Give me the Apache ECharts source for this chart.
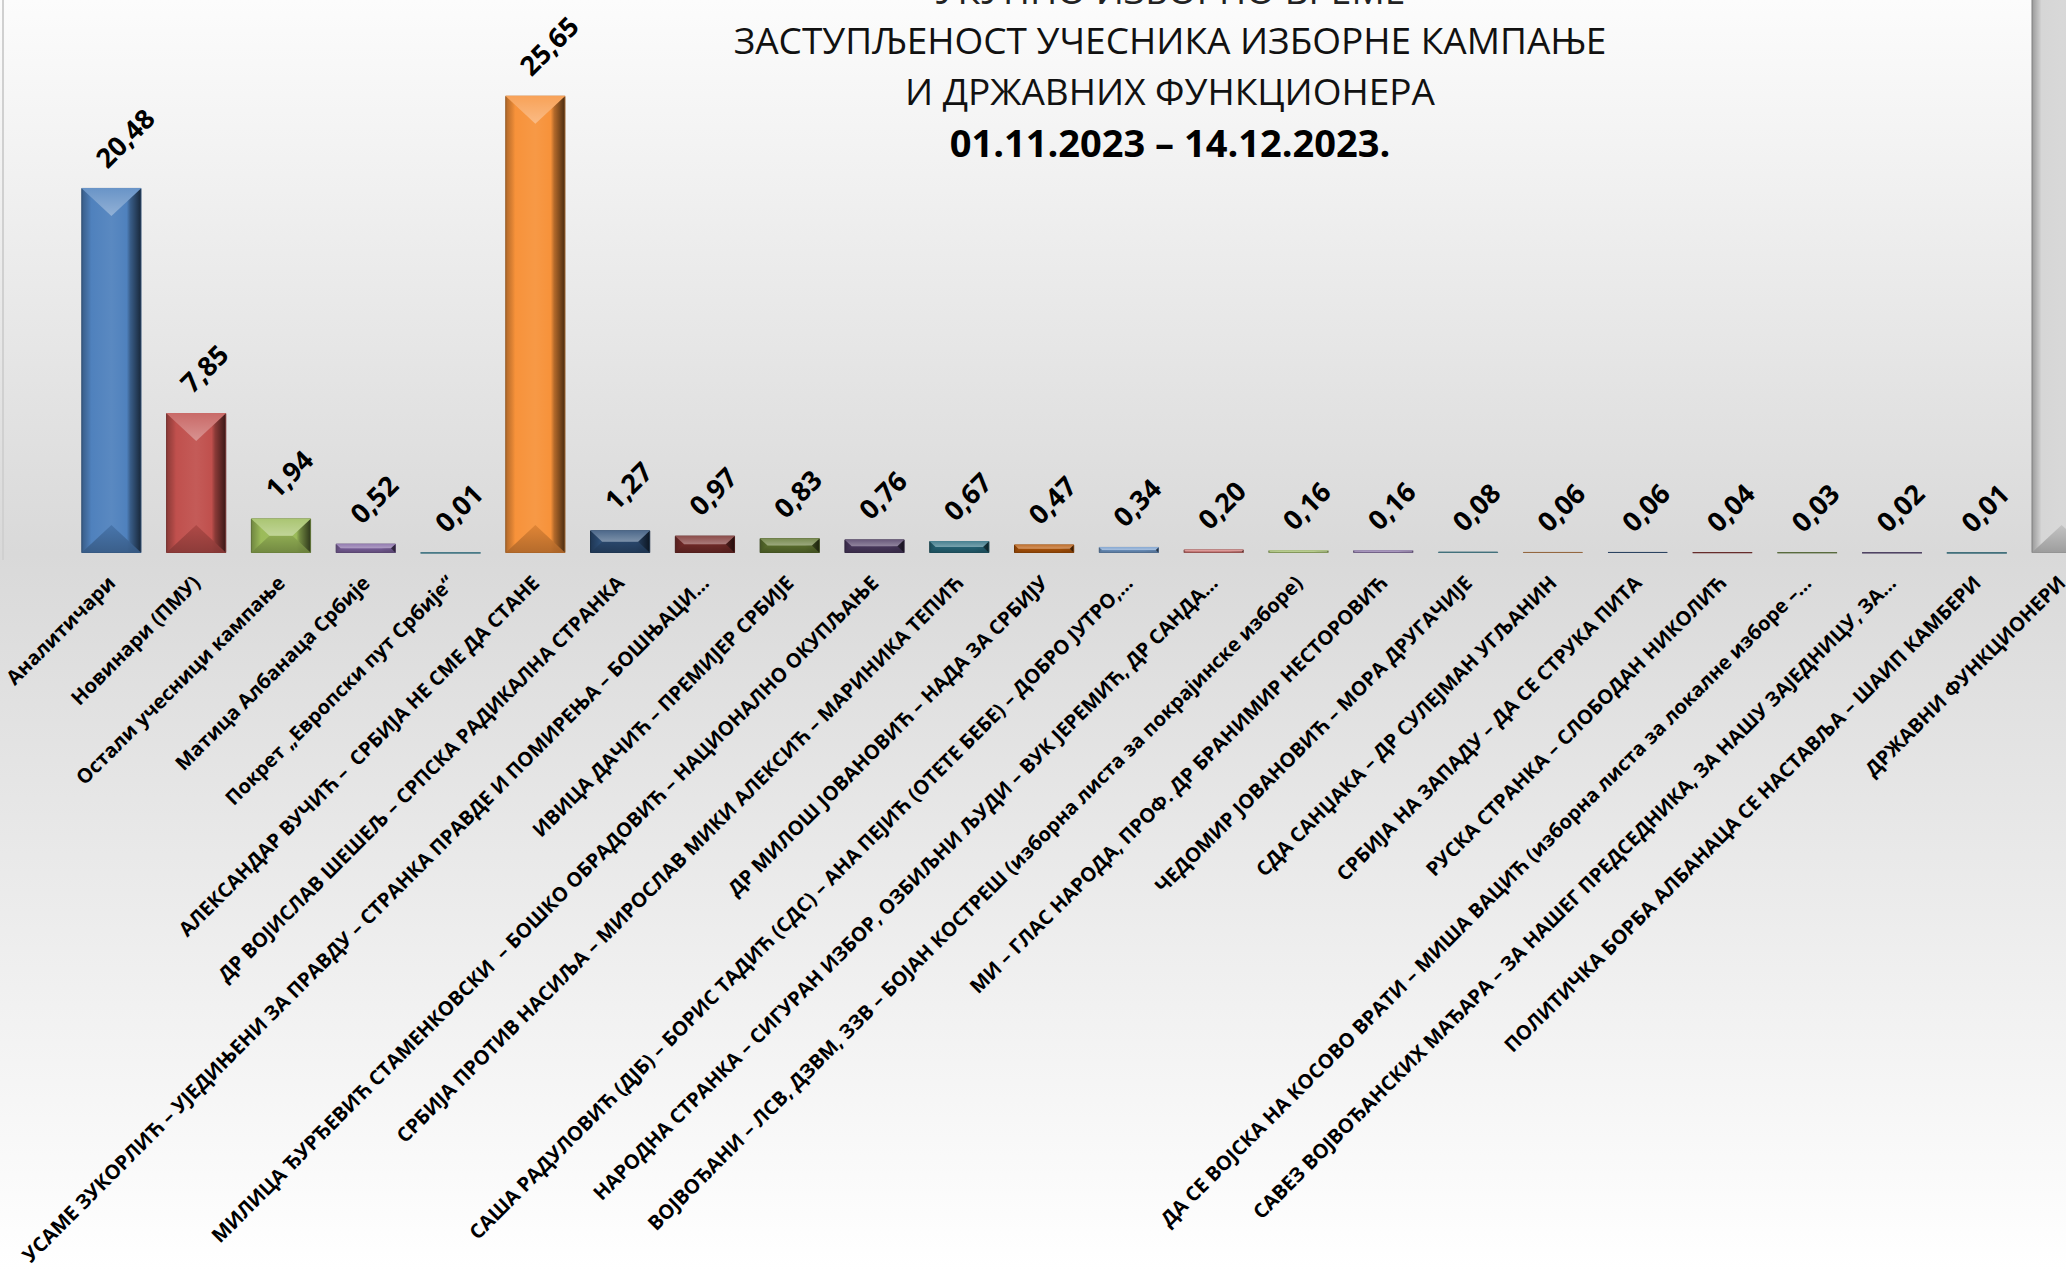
<!DOCTYPE html>
<html>
<head>
<meta charset="utf-8">
<script src="https://cdn.jsdelivr.net/npm/echarts@6/dist/echarts.min.js"></script>
<style>
html,body{margin:0;padding:0;width:2066px;height:1270px;overflow:hidden;}
body{position:relative;background:linear-gradient(to bottom,#FCFCFC 0px,#D9D9D9 553px,#FFFFFF 1270px);}
#chart{position:absolute;left:0;top:-160px;width:2104px;height:1430px;}
</style>
</head>
<body>
<div id="chart"></div>
<script>
const titleLines = [
  'УКУПНО ИЗБОРНО ВРЕМЕ',
  'ЗАСТУПЉЕНОСТ УЧЕСНИКА ИЗБОРНЕ КАМПАЊЕ',
  'И ДРЖАВНИХ ФУНКЦИОНЕРА',
  '01.11.2023 – 14.12.2023.'
];

const categories = [
  'Аналитичари',
  'Новинари (ПМУ)',
  'Остали учесници кампање',
  'Матица Албанаца Србије',
  'Покрет „Европски пут Србије“',
  'АЛЕКСАНДАР ВУЧИЋ –  СРБИЈА НЕ СМЕ ДА СТАНЕ',
  'ДР ВОЈИСЛАВ ШЕШЕЉ – СРПСКА РАДИКАЛНА СТРАНКА',
  'УСАМЕ ЗУКОРЛИЋ – УЈЕДИЊЕНИ ЗА ПРАВДУ – СТРАНКА ПРАВДЕ И ПОМИРЕЊА – БОШЊАЦИ…',
  'ИВИЦА ДАЧИЋ – ПРЕМИЈЕР СРБИЈЕ',
  'МИЛИЦА ЂУРЂЕВИЋ СТАМЕНКОВСКИ  – БОШКО ОБРАДОВИЋ – НАЦИОНАЛНО ОКУПЉАЊЕ',
  'СРБИЈА ПРОТИВ НАСИЉА – МИРОСЛАВ МИКИ АЛЕКСИЋ – МАРИНИКА ТЕПИЋ',
  'ДР МИЛОШ ЈОВАНОВИЋ – НАДА ЗА СРБИЈУ',
  'САША РАДУЛОВИЋ (ДЈБ) – БОРИС ТАДИЋ (СДС) – АНА ПЕЈИЋ (ОТЕТЕ БЕБЕ) – ДОБРО ЈУТРО,…',
  'НАРОДНА СТРАНКА – СИГУРАН ИЗБОР, ОЗБИЉНИ ЉУДИ – ВУК ЈЕРЕМИЋ, ДР САНДА…',
  'ВОЈВОЂАНИ – ЛСВ, ДЗВМ, ЗЗВ – БОЈАН КОСТРЕШ (изборна листа за покрајинске изборе)',
  'МИ – ГЛАС НАРОДА, ПРОФ. ДР БРАНИМИР НЕСТОРОВИЋ',
  'ЧЕДОМИР ЈОВАНОВИЋ – МОРА ДРУГАЧИЈЕ',
  'СДА САНЏАКА – ДР СУЛЕЈМАН УГЉАНИН',
  'СРБИЈА НА ЗАПАДУ – ДА СЕ СТРУКА ПИТА',
  'РУСКА СТРАНКА – СЛОБОДАН НИКОЛИЋ',
  'ДА СЕ ВОЈСКА НА КОСОВО ВРАТИ – МИША ВАЦИЋ (изборна листа за локалне изборе –…',
  'САВЕЗ ВОЈВОЂАНСКИХ МАЂАРА – ЗА НАШЕГ ПРЕДСЕДНИКА, ЗА НАШУ ЗАЈЕДНИЦУ, ЗА…',
  'ПОЛИТИЧКА БОРБА АЛБАНАЦА СЕ НАСТАВЉА – ШАИП КАМБЕРИ',
  'ДРЖАВНИ ФУНКЦИОНЕРИ'
];

const values = [20.48, 7.85, 1.94, 0.52, 0.01, 25.65, 1.27, 0.97, 0.83, 0.76, 0.67, 0.47,
                0.34, 0.20, 0.16, 0.16, 0.08, 0.06, 0.06, 0.04, 0.03, 0.02, 0.01, 37.42];

const barColors = ['#4F81BD', '#C0504D', '#9BBB59', '#8064A2', '#4BACC6', '#F7923A',
                   '#2C4D75', '#772C2A', '#5F7530', '#4D3B62', '#276A7C', '#B65708',
                   '#729ACA', '#CD7371', '#AFC97A', '#9983B5', '#6FBDD1', '#F9AB6B',
                   '#4A6FA3', '#A94442', '#8AAA5A', '#6B5590', '#3C97AF', '#D6D6D6'];

function hexToRgb(h){h=h.replace('#','');return [parseInt(h.substr(0,2),16),parseInt(h.substr(2,2),16),parseInt(h.substr(4,2),16)];}
function rgbStr(c){return 'rgb('+c.map(v=>Math.max(0,Math.min(255,Math.round(v)))).join(',')+')';}
function shade(h,f){return rgbStr(hexToRgb(h).map(v=>v*f));}
function tint(h,f){return rgbStr(hexToRgb(h).map(v=>v+(255-v)*f));}

function barFill(c){
  return {type:'linear',x:0,y:0,x2:1,y2:0,colorStops:[
    {offset:0,color:shade(c,0.72)},
    {offset:0.12,color:shade(c,0.92)},
    {offset:0.16,color:c},
    {offset:0.5,color:tint(c,0.06)},
    {offset:0.76,color:c},
    {offset:0.82,color:shade(c,0.72)},
    {offset:1,color:shade(c,0.3)}
  ]};
}

const FONT = "'Open Sans', 'Noto Sans', sans-serif";
const chart = echarts.init(document.getElementById('chart'), null, {renderer:'svg'});

const BARW = 0.71;
const BEVEL = 28;
const Y_MAX = 40;
const VISIBLE_MAX = 31;   // part of the value axis that lies inside the page
const OFFY = 160;         // chart container starts 160px above the page

chart.setOption({
  backgroundColor:'transparent',
  animation:false,
  title:{
    left:1165, top:OFFY-41, textAlign:'center',
    text:'{a|'+titleLines[0]+'}\n{b|'+titleLines[1]+'}\n{b|'+titleLines[2]+'}\n{c|'+titleLines[3]+'}',
    textStyle:{
      rich:{
        a:{fontFamily:FONT,fontSize:37,fontWeight:'normal',color:'#222',lineHeight:50,align:'center'},
        b:{fontFamily:FONT,fontSize:37,fontWeight:'normal',color:'#111',lineHeight:51,align:'center'},
        c:{fontFamily:FONT,fontSize:38,fontWeight:'bold',color:'#000',lineHeight:51,align:'center'}
      }
    }
  },
  grid:{left:69,right:0,top:0,bottom:717,containLabel:false},
  xAxis:{
    type:'category', data:categories,
    axisLine:{show:false}, axisTick:{show:false},
    axisLabel:{interval:0,rotate:45,margin:26,fontFamily:FONT,fontSize:20,fontWeight:'bold',color:'#000',hideOverlap:false}
  },
  yAxis:{type:'value',min:0,max:Y_MAX,show:false,splitLine:{show:false}},
  series:[
    {
      type:'bar',
      barWidth:(BARW*100)+'%',
      data: values.map((v,i)=>({value:v,
        label:{show: v <= VISIBLE_MAX},
        itemStyle:{color:barFill(barColors[i]),borderColor:shade(barColors[i],0.6),borderWidth:1}})),
      label:{
        show:true, position:'top', rotate:45, align:'left', verticalAlign:'middle',
        distance:37, offset:[-16,0],
        fontFamily:FONT, fontSize:27, fontWeight:'bold', color:'#000',
        formatter:p=>p.value.toFixed(2).replace('.',',')
      }
    },
    {
      type:'custom', silent:true, clip:true, z:3,
      data: values.map((v,i)=>[i,v]),
      encode:{x:0,y:1},
      renderItem:function(params,api){
        const i = api.value(0), v = api.value(1);
        const base = api.coord([i,0]), top = api.coord([i,v]);
        const bw = api.size([1,0])[0]*BARW;
        const cs = params.coordSys;
        const x0 = base[0]-bw/2, x1 = base[0]+bw/2, xc = base[0];
        const y0 = Math.max(top[1], cs.y), y1 = base[1];
        const h = y1-y0;
        if (h < 2) return null;
        const d = Math.min(BEVEL, h/2);
        const half = bw/2;
        const inset = half * d / BEVEL;
        const rest = half - inset;
        const c = barColors[i];
        const topFace = {type:'polygon',shape:{points:[[x0,y0],[x1,y0],[xc+rest,y0+d],[xc-rest,y0+d]]},
          style:{fill:{type:'linear',x:0,y:0,x2:0,y2:1,colorStops:[{offset:0,color:tint(c,0.15)},{offset:1,color:tint(c,0.38)}]}}};
        const botFace = {type:'polygon',shape:{points:[[x0,y1],[x1,y1],[xc+rest,y1-d],[xc-rest,y1-d]]},
          style:{fill:{type:'linear',x:0,y:0,x2:0,y2:1,colorStops:[{offset:0,color:shade(c,0.9)},{offset:1,color:shade(c,0.7)}]},opacity:0.9}};
        const children = [botFace];
        if (v < Y_MAX) children.push(topFace);
        return {type:'group',children:children};
      }
    }
  ],
  graphic:[
    {type:'rect',shape:{x:2,y:OFFY,width:2,height:560},style:{fill:'#D0D0D0'},silent:true}
  ]
});
</script>
</body>
</html>
